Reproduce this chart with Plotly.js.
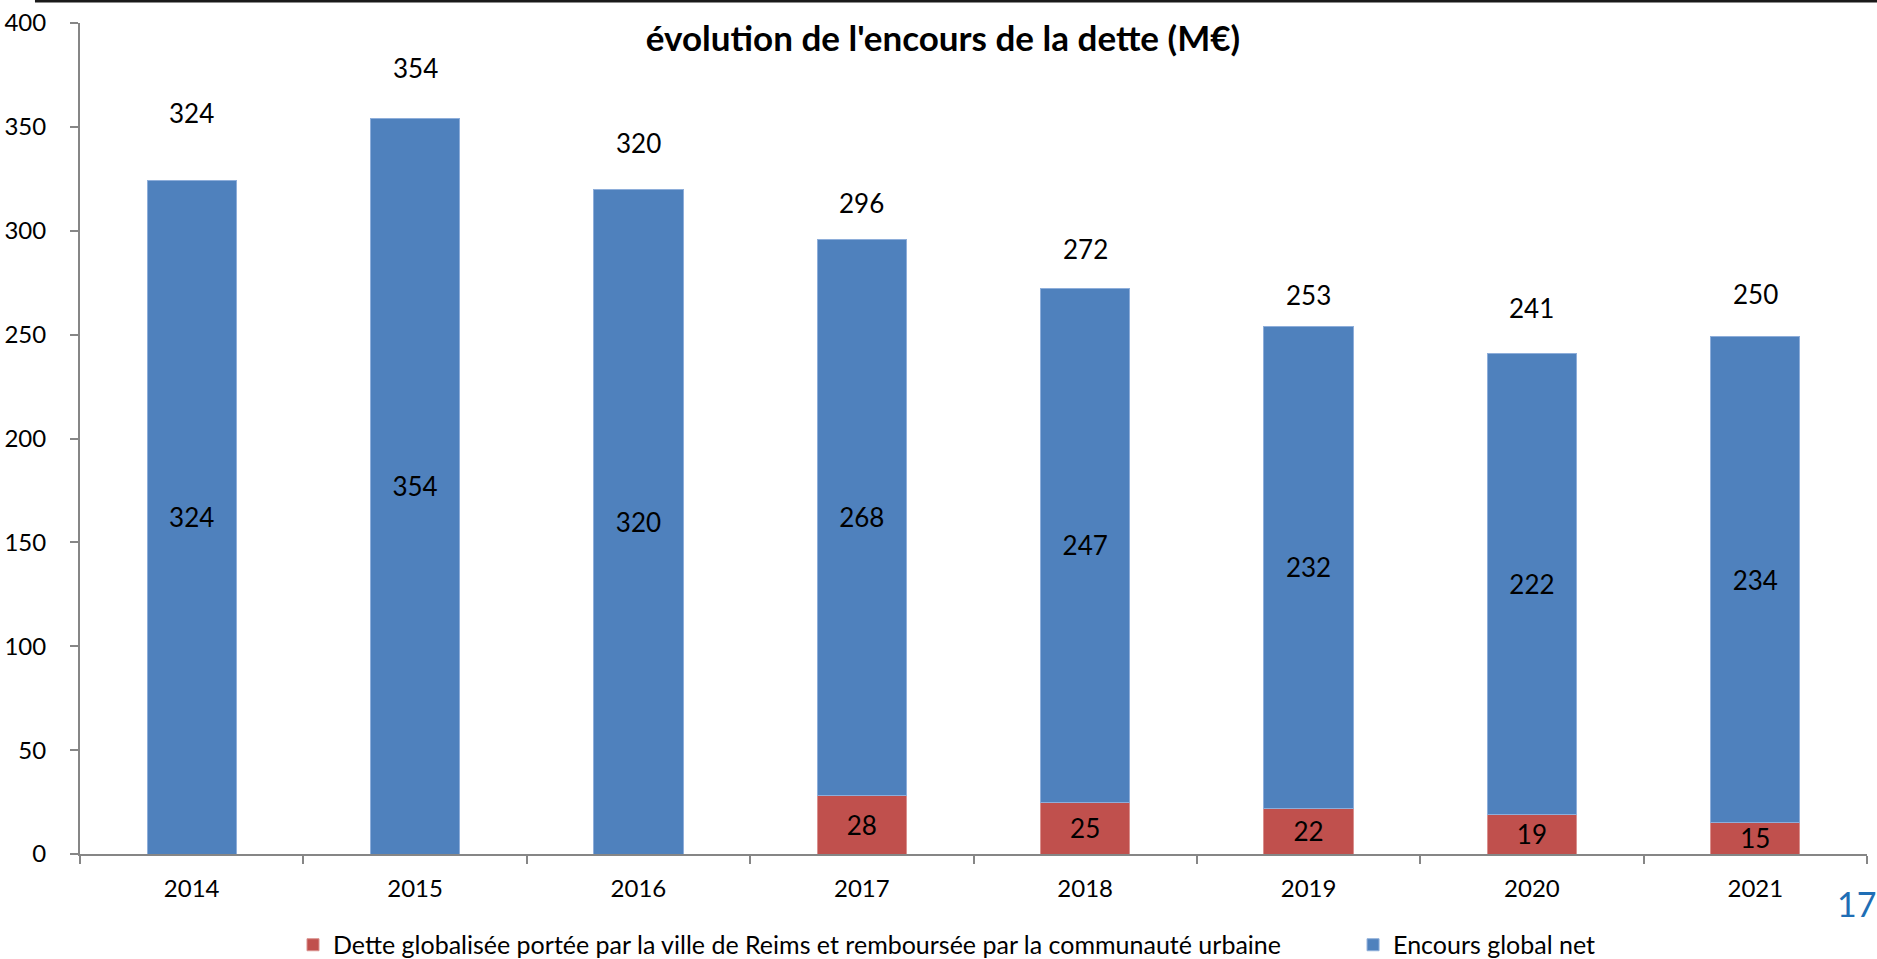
<!DOCTYPE html>
<html>
<head>
<meta charset="utf-8">
<script src="https://cdn.plot.ly/plotly-3.0.1.min.js"></script>
<style>
html,body{margin:0;padding:0;background:#fff;}
#chart{width:1877px;height:959px;}
</style>
</head>
<body>
<div id="chart"></div>
<script>
// ---- data ----
const years = ['2014','2015','2016','2017','2018','2019','2020','2021'];
const detteGlobalisee = [0, 0, 0, 28, 25, 22, 19, 15];
const encoursGlobalNet = [324, 354, 320, 268, 247, 232, 222, 234];
const totals = [324, 354, 320, 296, 272, 253, 241, 250];
const seriesNames = ['Dette globalisée portée par la ville de Reims et remboursée par la communauté urbaine', 'Encours global net'];
const yTicks = [0, 50, 100, 150, 200, 250, 300, 350, 400];
const chartTitle = "évolution de l'encours de la dette (M€)";
const pageNumber = '17';
// label offsets (pixels above bar top) as drawn in the reference
const totalLabelOffsets = [68, 51, 46, 36, 40, 33, 45, 41];

const FONT = 'Lato, "Open Sans", sans-serif';

const traceRed = {
  type: 'bar', x: years, y: detteGlobalisee, name: seriesNames[0],
  legend: 'legend',
  marker: {color: '#C0504D', line: {color: '#D9908E', width: 1}},
  text: detteGlobalisee.map(v => v > 0 ? String(v) : ''),
  textposition: 'inside', insidetextanchor: 'middle', textangle: 0,
  constraintext: 'none',
  textfont: {family: FONT, size: 26, color: '#000'},
  hoverinfo: 'none'
};
const traceBlue = {
  type: 'bar', x: years, y: encoursGlobalNet, name: seriesNames[1],
  legend: 'legend2',
  marker: {color: '#4F81BD', line: {color: '#8EAEDA', width: 1}},
  text: encoursGlobalNet.map(v => String(v)),
  textposition: 'inside', insidetextanchor: 'middle', textangle: 0,
  constraintext: 'none',
  textfont: {family: FONT, size: 26, color: '#000'},
  hoverinfo: 'none'
};

// category axis: annotations use the category index
const annotations = years.map((yr, i) => ({
  x: i, y: totals[i], xref: 'x', yref: 'y',
  text: String(totals[i]), showarrow: false,
  yanchor: 'middle', yshift: totalLabelOffsets[i],
  font: {family: FONT, size: 26, color: '#000'}
}));
annotations.push({
  x: 0.9944, y: -0.059, xref: 'paper', yref: 'paper',
  text: pageNumber, showarrow: false, xanchor: 'center', yanchor: 'middle',
  font: {family: FONT, size: 34, color: '#1F6EB5'}
});

const legendCommon = {
  orientation: 'h', xref: 'paper', xanchor: 'left',
  y: -0.1095, yref: 'paper', yanchor: 'middle',
  font: {family: FONT, size: 25, color: '#000'},
  bgcolor: 'rgba(0,0,0,0)'
};

const layout = {
  width: 1877, height: 959,
  margin: {l: 80, r: 10, t: 23, b: 105, autoexpand: false},
  paper_bgcolor: '#fff', plot_bgcolor: '#fff',
  barmode: 'stack', bargap: 0.6,
  showlegend: true,
  title: {
    text: '<b>' + chartTitle + '</b>',
    x: 0.5024, xref: 'container', xanchor: 'center',
    y: 0.96, yref: 'container', yanchor: 'middle',
    font: {family: FONT, size: 35, color: '#000'}
  },
  xaxis: {
    type: 'category', tickson: 'boundaries', range: [-0.5, 7.5],
    showline: true, linecolor: '#868686', linewidth: 2,
    ticks: 'outside', ticklen: 8, tickcolor: '#868686', tickwidth: 2,
    showgrid: false, zeroline: false,
    tickfont: {family: FONT, size: 24, color: '#000'},
    ticklabelstandoff: 12
  },
  yaxis: {
    range: [0, 400], tickvals: yTicks,
    showline: true, linecolor: '#868686', linewidth: 2,
    ticks: 'outside', ticklen: 8, tickcolor: '#868686', tickwidth: 2,
    showgrid: false, zeroline: false,
    tickfont: {family: FONT, size: 24, color: '#000'},
    ticklabelstandoff: 19
  },
  legend: Object.assign({}, legendCommon, {x: 0.1192}),
  legend2: Object.assign({}, legendCommon, {x: 0.7124}),
  shapes: [{
    type: 'line', xref: 'paper', yref: 'paper',
    x0: -0.0252, x1: 1.0056, y0: 1.0265, y1: 1.0265,
    line: {color: '#1a1a1a', width: 3}
  }],
  annotations: annotations
};

Plotly.newPlot('chart', [traceRed, traceBlue], layout, {displayModeBar: false, staticPlot: true});
</script>
</body>
</html>
